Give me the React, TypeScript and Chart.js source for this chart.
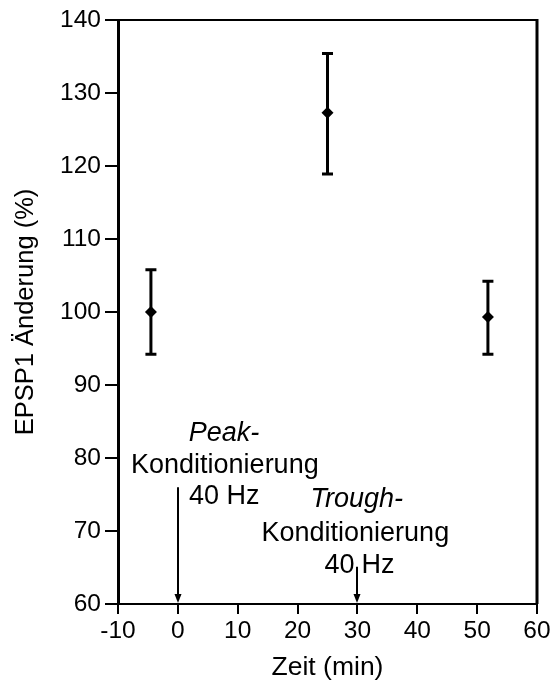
import React, { useEffect, useRef } from "react";
import { Chart, registerables } from "chart.js";

Chart.register(...registerables);

const times = [-4.5, 25, 51.8];
const means = [100, 127.3, 99.3];
const errLow = [94.2, 118.9, 94.2];
const errHigh = [105.8, 135.4, 104.2];

const xTickMin = -10;
const xTickMax = 60;
const yTickMin = 60;
const yTickMax = 140;

const xTitle = "Zeit (min)";
const yTitle = "EPSP1 Änderung (%)";

// conditioning markers: arrow at time, from value to axis
const arrowTimes = [0, 30];
const arrowTops = [76.0, 65.1];

// annotation texts (data coordinates)
const noteTexts = ["Peak-", "Konditionierung", "40 Hz", "Trough-", "Konditionierung", "40 Hz"];
const noteX = [7.7, 7.85, 1.85, 29.9, 29.65, 29.7];
const noteY = [83.4, 79.0, 74.66, 74.25, 69.7, 65.3];
const noteItalic = [true, false, false, true, false, false];
const noteAlign: CanvasTextAlign[] = ["center", "center", "left", "center", "center", "center"];

const FONT = "'Liberation Sans', Arial, Helvetica, sans-serif";
const TICK_FS = 24.5;
const NOTE_FS = 27;

const extrasPlugin = {
  id: "extras",
  afterDatasetsDraw(chart: any) {
    const ctx = chart.ctx;
    const xs = chart.scales.x;
    const ys = chart.scales.y;
    ctx.save();
    ctx.strokeStyle = "#000";
    ctx.fillStyle = "#000";
    // error bars
    for (let i = 0; i < times.length; i++) {
      const px = xs.getPixelForValue(times[i]);
      const pLo = ys.getPixelForValue(errLow[i]);
      const pHi = ys.getPixelForValue(errHigh[i]);
      ctx.lineWidth = 3;
      ctx.beginPath();
      ctx.moveTo(px, pLo);
      ctx.lineTo(px, pHi);
      ctx.stroke();
      ctx.lineWidth = 3;
      ctx.beginPath();
      ctx.moveTo(px - 5.5, pLo);
      ctx.lineTo(px + 5.5, pLo);
      ctx.moveTo(px - 5.5, pHi);
      ctx.lineTo(px + 5.5, pHi);
      ctx.stroke();
    }
    // arrows
    for (let i = 0; i < arrowTimes.length; i++) {
      const px = Math.round(xs.getPixelForValue(arrowTimes[i]));
      const top = ys.getPixelForValue(arrowTops[i]);
      const bot = ys.getPixelForValue(yTickMin) - 1;
      ctx.lineWidth = 2;
      ctx.beginPath();
      ctx.moveTo(px, top);
      ctx.lineTo(px, bot - 7);
      ctx.stroke();
      ctx.beginPath();
      ctx.moveTo(px - 3.5, bot - 9);
      ctx.lineTo(px + 3.5, bot - 9);
      ctx.lineTo(px, bot);
      ctx.closePath();
      ctx.fill();
    }
    // notes
    ctx.textBaseline = "middle";
    for (let i = 0; i < noteTexts.length; i++) {
      ctx.font = (noteItalic[i] ? "italic " : "") + NOTE_FS + "px " + FONT;
      ctx.textAlign = noteAlign[i];
      const px = xs.getPixelForValue(noteX[i]);
      const py = ys.getPixelForValue(noteY[i]);
      if (i === 5) {
        // split around arrow
        const ax = xs.getPixelForValue(arrowTimes[1]);
        const parts = noteTexts[i].split(" ");
        ctx.textAlign = "right";
        ctx.fillText(parts[0], ax - 3, py);
        ctx.textAlign = "left";
        ctx.fillText(parts[1], ax + 4, py);
      } else {
        ctx.fillText(noteTexts[i], px, py);
      }
    }
    ctx.restore();
  },
  afterDraw(chart: any) {
    const { ctx, chartArea } = chart;
    ctx.save();
    ctx.strokeStyle = "#000";
    ctx.lineWidth = 2;
    ctx.beginPath();
    ctx.moveTo(chartArea.left, chartArea.top);
    ctx.lineTo(chartArea.right, chartArea.top);
    ctx.stroke();
    ctx.lineWidth = 3;
    ctx.beginPath();
    ctx.moveTo(chartArea.right, chartArea.top - 1);
    ctx.lineTo(chartArea.right, chartArea.bottom);
    ctx.stroke();
    ctx.restore();
  },
};

export default function App() {
  const ref = useRef<HTMLCanvasElement | null>(null);
  useEffect(() => {
    document.body.style.margin = "0";
    const canvas = ref.current;
    if (!canvas) return;
    const chart = new Chart(canvas, {
      type: "scatter",
      data: {
        datasets: [
          {
            data: times.map((t, i) => ({ x: t, y: means[i] })),
            pointStyle: "rectRot",
            pointRadius: 6,
            backgroundColor: "#000",
            borderColor: "#000",
            borderWidth: 0,
          },
        ],
      },
      options: {
        animation: false,
        responsive: false,
        devicePixelRatio: 1,
        layout: { padding: { top: 20, right: 17, left: 0, bottom: 0 } },
        plugins: { legend: { display: false }, tooltip: { enabled: false } },
        scales: {
          x: {
            type: "linear",
            min: xTickMin,
            max: xTickMax,
            ticks: {
              stepSize: 10,
              color: "#000",
              font: { family: FONT, size: TICK_FS },
              padding: 3,
              maxRotation: 0,
            },
            grid: {
              display: true,
              drawOnChartArea: false,
              drawTicks: true,
              tickLength: 10,
              color: "#000",
              lineWidth: 2,
            },
            border: { display: true, color: "#000", width: 2 },
            title: {
              display: true,
              text: xTitle,
              color: "#000",
              font: { family: FONT, size: 26.5 },
              padding: { top: 0, bottom: 0 },
            },
            afterFit(scale: any) {
              scale.height = 80;
            },
          },
          y: {
            type: "linear",
            min: yTickMin,
            max: yTickMax,
            ticks: {
              stepSize: 10,
              color: "#000",
              font: { family: FONT, size: TICK_FS },
              padding: 4,
            },
            grid: {
              display: true,
              drawOnChartArea: false,
              drawTicks: true,
              tickLength: 13,
              color: "#000",
              lineWidth: 2,
            },
            border: { display: true, color: "#000", width: 3 },
            title: {
              display: true,
              text: yTitle,
              color: "#000",
              font: { family: FONT, size: 25.5 },
              padding: { top: 11, bottom: 0 },
            },
            afterFit(scale: any) {
              scale.width = 118;
            },
          },
        },
      },
      plugins: [extrasPlugin],
    });
    return () => chart.destroy();
  }, []);
  return (
    <div style={{ width: 554, height: 684 }}>
      <canvas ref={ref} width={554} height={684} style={{ display: "block" }} />
    </div>
  );
}
